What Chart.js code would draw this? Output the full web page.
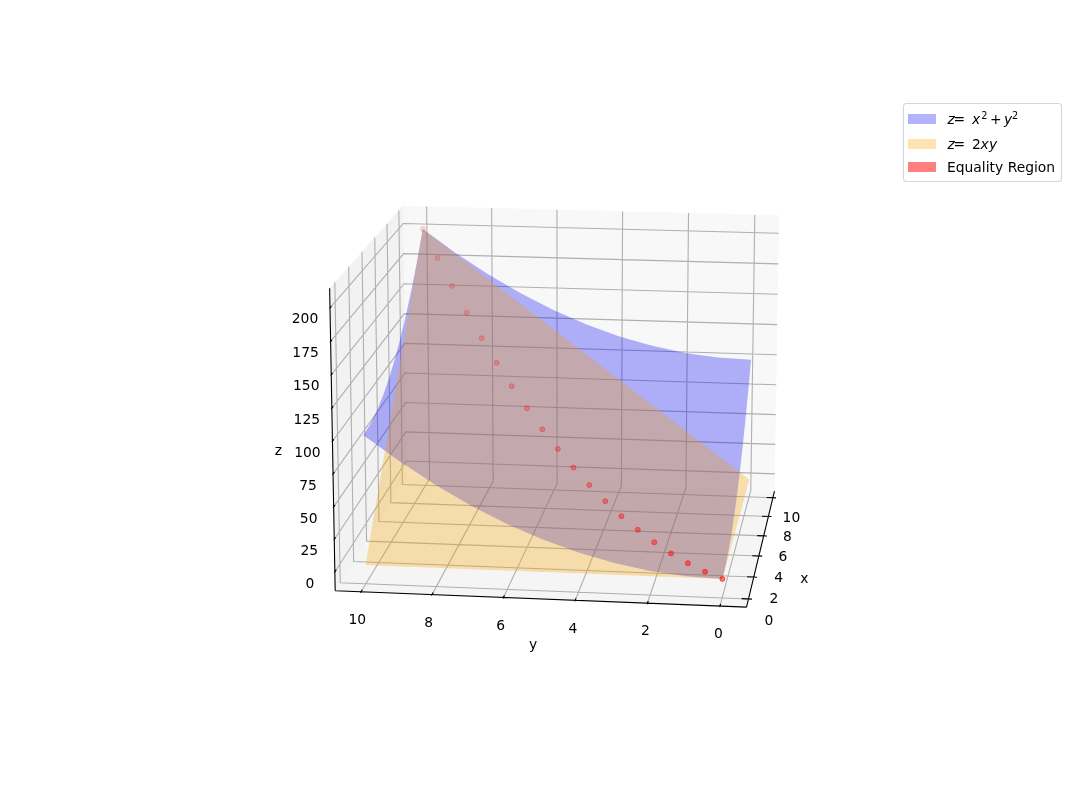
<!DOCTYPE html>
<html>
<head>
<meta charset="utf-8">
<style>html,body{margin:0;padding:0;background:#fff}canvas{display:block}</style>
<script src="https://cdn.jsdelivr.net/npm/chart.js@4"></script>
</head>
<body>
<canvas id="c" width="1087" height="800"></canvas>
<script>
// ---------- data ----------
const gridValues = [0,1,2,3,4,5,6,7,8,9,10];
const blueZ = [
 [0,1,4,9,16,25,36,49,64,81,100],
 [1,2,5,10,17,26,37,50,65,82,101],
 [4,5,8,13,20,29,40,53,68,85,104],
 [9,10,13,18,25,34,45,58,73,90,109],
 [16,17,20,25,32,41,52,65,80,97,116],
 [25,26,29,34,41,50,61,74,89,106,125],
 [36,37,40,45,52,61,72,85,100,117,136],
 [49,50,53,58,65,74,85,98,113,130,149],
 [64,65,68,73,80,89,100,113,128,145,164],
 [81,82,85,90,97,106,117,130,145,162,181],
 [100,101,104,109,116,125,136,149,164,181,200]
];
const orangeZ = [
 [0,0,0,0,0,0,0,0,0,0,0],
 [0,2,4,6,8,10,12,14,16,18,20],
 [0,4,8,12,16,20,24,28,32,36,40],
 [0,6,12,18,24,30,36,42,48,54,60],
 [0,8,16,24,32,40,48,56,64,72,80],
 [0,10,20,30,40,50,60,70,80,90,100],
 [0,12,24,36,48,60,72,84,96,108,120],
 [0,14,28,42,56,70,84,98,112,126,140],
 [0,16,32,48,64,80,96,112,128,144,160],
 [0,18,36,54,72,90,108,126,144,162,180],
 [0,20,40,60,80,100,120,140,160,180,200]
];
const equalityT = [0,0.526,1.053,1.579,2.105,2.632,3.158,3.684,4.211,4.737,5.263,5.789,6.316,6.842,7.368,7.895,8.421,8.947,9.474,10];
const equalityZ = [0,0.554,2.22,4.99,8.86,13.85,19.94,27.15,35.46,44.88,55.4,67.0,79.8,93.6,108.6,124.7,141.8,160.1,179.5,200];
const xTicks = [0,2,4,6,8,10];
const yTicks = [0,2,4,6,8,10];
const zTicks = [0,25,50,75,100,125,150,175,200];
const xLim = [-0.729,10.729];
const yLim = [-0.729,10.729];
const zLim = [-14.58,214.58];
const seriesNames = ['z = x² + y²','z = 2xy','Equality Region'];

// ---------- camera ----------
const elev = 14.63*Math.PI/180, turn = 7.3*Math.PI/180;
const halfXY = 0.595, halfZ = 0.449, dist = 10;
const S = 3350, X0 = 565.8, Y0 = 395.8;
const ce=Math.cos(elev),se=Math.sin(elev),ct=Math.cos(turn),st=Math.sin(turn);
const U=[-ce*ct,-ce*st,se],V=[st,-ct,0],W=[se*ct,se*st,ce];
function box(x,y,z){return [
  ((x-xLim[0])/(xLim[1]-xLim[0])*2-1)*halfXY,
  ((y-yLim[0])/(yLim[1]-yLim[0])*2-1)*halfXY,
  ((z-zLim[0])/(zLim[1]-zLim[0])*2-1)*halfZ];}
const dot=(a,b)=>a[0]*b[0]+a[1]*b[1]+a[2]*b[2];
function depth(x,y,z){return dist-dot(U,box(x,y,z));}
function P(x,y,z){const b=box(x,y,z),d=dist-dot(U,b);return {x:dot(V,b)/d,y:dot(W,b)/d};}
const BREAK={x:NaN,y:NaN};
function segs(list){const out=[];list.forEach(s=>{s.forEach(p=>out.push(P(p[0],p[1],p[2])));out.push(BREAK);});return out;}
const [x0,x1]=xLim,[y0,y1]=yLim,[z0,z1]=zLim;

function outline(tbl){
  const n=gridValues.length,g=gridValues,o=[];
  for(let i=0;i<n;i++)o.push(P(g[i],g[0],tbl[i][0]));
  for(let j=1;j<n;j++)o.push(P(g[n-1],g[j],tbl[n-1][j]));
  for(let i=n-2;i>=0;i--)o.push(P(g[i],g[n-1],tbl[i][n-1]));
  for(let j=n-2;j>0;j--)o.push(P(g[0],g[j],tbl[0][j]));
  return o;
}
const gridSegs=[];
xTicks.forEach(t=>{gridSegs.push([[t,y0,z0],[t,y1,z0],[t,y1,z1]]);});
yTicks.forEach(t=>{gridSegs.push([[x0,t,z0],[x1,t,z0],[x1,t,z1]]);});
zTicks.forEach(t=>{gridSegs.push([[x0,y1,t],[x1,y1,t],[x1,y0,t]]);});
const axisSegs=[[[x0,y0,z0],[x1,y0,z0]],[[x0,y0,z0],[x0,y1,z0]],[[x0,y1,z0],[x0,y1,z1]]];
xTicks.forEach(t=>axisSegs.push([[t,y0-0.095,z0],[t,y0+0.191,z0]]));
yTicks.forEach(t=>axisSegs.push([[x0-0.095,t,z0],[x0+0.191,t,z0]]));
zTicks.forEach(t=>axisSegs.push([[x0-0.095,y1,t],[x0+0.191,y1,t]]));

const dAll=equalityT.map((t,i)=>depth(t,t,equalityZ[i]));
const dMin=Math.min(...dAll),dMax=Math.max(...dAll);
const pointAlpha=dAll.map(d=>0.16+0.47*(dMax-d)/(dMax-dMin));

const line=(label,data,color,width)=>({type:'scatter',label,data,showLine:true,borderColor:color,borderWidth:width,pointRadius:0,pointHoverRadius:0,fill:false,spanGaps:false,tension:0});
const poly=(label,data,color)=>({type:'scatter',label,data,showLine:false,polygonColor:color,pointRadius:0,pointHoverRadius:0,fill:false});

const datasets=[
  poly('pane x',[P(x1,y0,z0),P(x1,y1,z0),P(x1,y1,z1),P(x1,y0,z1)],'rgba(242,242,242,0.5)'),
  poly('pane y',[P(x0,y1,z0),P(x1,y1,z0),P(x1,y1,z1),P(x0,y1,z1)],'rgba(230,230,230,0.5)'),
  poly('pane z',[P(x0,y0,z0),P(x1,y0,z0),P(x1,y1,z0),P(x0,y1,z0)],'rgba(236,236,236,0.5)'),
  line('grid',segs(gridSegs),'#b0b0b0',1.11),
  line('axes',segs(axisSegs),'#000000',1.11),
  poly(seriesNames[0],outline(blueZ),'rgba(0,0,247,0.3)'),
  poly(seriesNames[1],outline(orangeZ),'rgba(247,160,0,0.3)'),
  {type:'scatter',label:seriesNames[2],data:equalityT.map((t,i)=>P(t,t,equalityZ[i])),showLine:false,
   pointRadius:2.5,pointHoverRadius:2.5,pointBorderWidth:1,
   pointBackgroundColor:pointAlpha.map(a=>`rgba(255,0,0,${(a*0.8).toFixed(3)})`),
   pointBorderColor:pointAlpha.map(a=>`rgba(255,0,0,${(a*0.9).toFixed(3)})`)}
];
datasets.forEach((d,i)=>{d.order=datasets.length-i;});

const FONT='13.89px "DejaVu Sans"';
const polygonFill={id:'polygonFill',beforeDatasetDraw(chart,args){
  const ds=chart.data.datasets[args.index];
  if(!ds.polygonColor)return;
  const pts=chart.getDatasetMeta(args.index).data,ctx=chart.ctx;
  ctx.save();ctx.beginPath();
  pts.forEach((p,i)=>i?ctx.lineTo(p.x,p.y):ctx.moveTo(p.x,p.y));
  ctx.closePath();ctx.fillStyle=ds.polygonColor;ctx.fill();ctx.restore();
}};
const axisText={id:'axisText',afterDatasetsDraw(chart){
  const ctx=chart.ctx,sx=chart.scales.x,sy=chart.scales.y;
  const put=(t,p,dx,dy)=>ctx.fillText(t,sx.getPixelForValue(p.x)+dx,sy.getPixelForValue(p.y)+dy);
  ctx.save();ctx.font=FONT;ctx.fillStyle='#000';ctx.textAlign='center';ctx.textBaseline='middle';
  xTicks.forEach(t=>put(String(t),P(t,y0,z0),20.5-0.2*t,22.5-0.15*t));
  yTicks.forEach(t=>put(String(t),P(x0,t,z0),-1.5-0.22*t,28.6));
  zTicks.forEach(t=>put(String(t),P(x0,y1,t),-25,12));
  put('x',P(5,y0,z0),43,33.5);
  put('y',P(x0,5,z0),-6.3,46.5);
  put('z',P(x0,y1,100),-54,10.5);
  ctx.restore();
}};
// legend with mathtext-like labels: [text, x offset from label start, style]
const legendRows=[
  {y:119,patchY:114,color:'rgba(0,0,255,0.3)',parts:[['z',0.5,'i'],['=',6.5,'n'],['x',25,'i'],['2',34.2,'s'],['+',43,'n'],['y',57,'i'],['2',65,'s']]},
  {y:144,patchY:139,color:'rgba(255,165,0,0.3)',parts:[['z',0.5,'i'],['=',6.5,'n'],['2',25,'n'],['x',33.5,'i'],['y',42,'i']]},
  {y:167,patchY:162,color:'rgba(255,0,0,0.5)',parts:[[seriesNames[2],0,'n']]}
];
const mathLegend={id:'mathLegend',afterDraw(chart){
  const ctx=chart.ctx;
  ctx.save();
  ctx.beginPath();ctx.roundRect(903.5,103.5,158,78,3);
  ctx.fillStyle='rgba(255,255,255,0.8)';ctx.fill();ctx.strokeStyle='rgba(204,204,204,0.8)';ctx.lineWidth=1.1;ctx.stroke();
  ctx.textBaseline='alphabetic';ctx.textAlign='left';
  legendRows.forEach(r=>{
    ctx.fillStyle=r.color;ctx.fillRect(908,r.patchY,28,10);
    ctx.fillStyle='#000';
    r.parts.forEach(p=>{
      if(p[2]==='i')ctx.font='oblique '+FONT;
      else if(p[2]==='s')ctx.font='9.7px "DejaVu Sans"';
      else ctx.font=FONT;
      ctx.fillText(p[0],947+p[1],r.y+5+(p[2]==='s'?-4.7:0));
    });
  });
  ctx.restore();
}};

new Chart(document.getElementById('c'),{
  type:'scatter',
  data:{datasets},
  plugins:[polygonFill,axisText,mathLegend],
  options:{
    responsive:false,animation:false,
    layout:{padding:0},
    events:[],
    scales:{
      x:{type:'linear',display:false,min:-X0/S,max:(1087-X0)/S},
      y:{type:'linear',display:false,min:(Y0-800)/S,max:Y0/S}
    },
    plugins:{legend:{display:false},tooltip:{enabled:false},title:{display:false}}
  }
});
</script>
</body>
</html>
